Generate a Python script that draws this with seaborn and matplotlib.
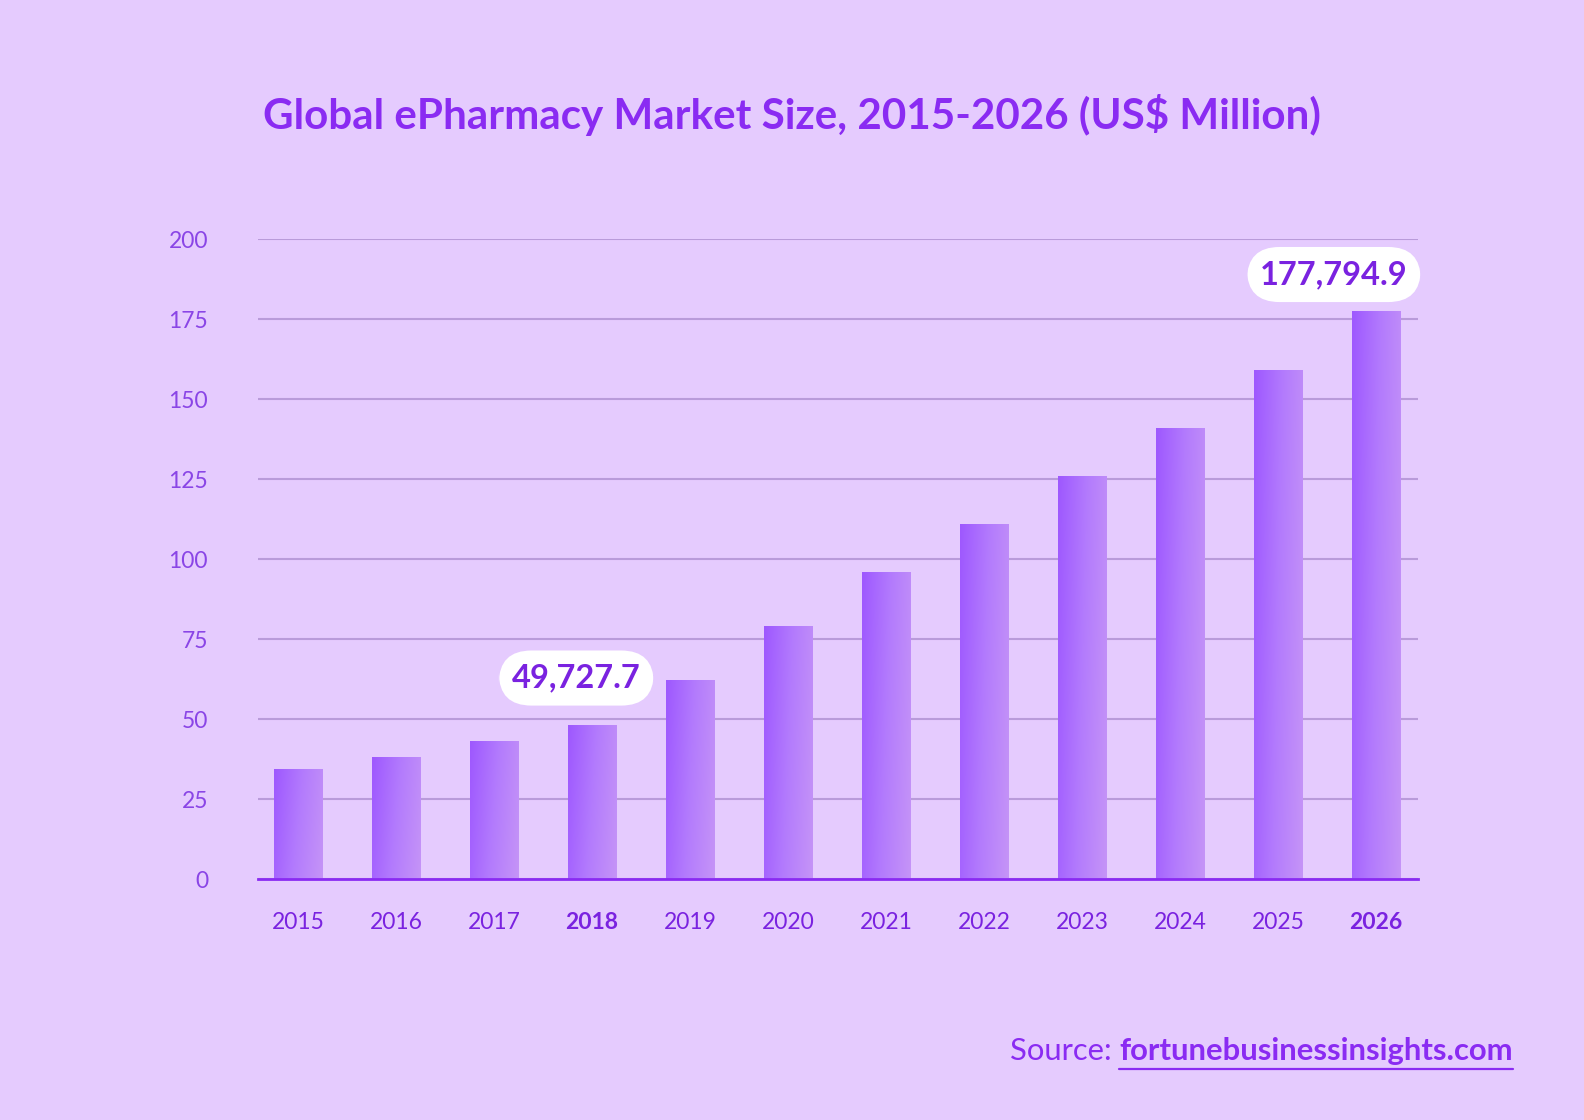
import numpy as np
import matplotlib
matplotlib.use("Agg")
import matplotlib.pyplot as plt
import seaborn as sns
from matplotlib.colors import LinearSegmentedColormap

years = ["2015", "2016", "2017", "2018", "2019", "2020", "2021", "2022", "2023", "2024", "2025", "2026"]
values = [34.4, 38.1, 43.1, 48.1, 62.2, 79.1, 95.9, 110.9, 125.9, 140.9, 159.1, 177.6]
yticks = [0, 25, 50, 75, 100, 125, 150, 175, 200]
callout_years = ["2018", "2026"]
callout_texts = ["49,727.7", "177,794.9"]
bold_years = ["2018", "2026"]
title = "Global ePharmacy Market Size, 2015-2026 (US$ Million)"

BG = "#E5CBFE"
PURPLE = "#8A2BF2"
DARK = "#7A22E0"
TICK = "#8A45E6"

sns.set_theme(style="white")
plt.rcParams["font.family"] = ["Lato", "DejaVu Sans"]

W, H = 1584, 1120
fig = plt.figure(figsize=(W / 100, H / 100), dpi=100)
fig.patch.set_facecolor(BG)

ax_l, ax_r, ax_t, ax_b = 258, 1418, 239, 879
ax = fig.add_axes([ax_l / W, 1 - ax_b / H, (ax_r - ax_l) / W, (ax_b - ax_t) / H])
ax.set_facecolor(BG)

sns.barplot(x=years, y=values, order=years, ax=ax, width=0.49, color="#A864FF",
            saturation=1, zorder=2)

cmap = LinearSegmentedColormap.from_list("g", ["#9E58FF", "#B37BFD", "#C594F7"])
n = 64
X, Y = np.meshgrid(np.linspace(0, 1, n), np.linspace(0, 1, n))
grad = 0.82 * X + 0.18 * Y
for p in list(ax.patches):
    x0, w, h = p.get_x(), p.get_width(), p.get_height()
    p.set_facecolor("none")
    p.set_edgecolor("none")
    im = ax.imshow(grad, extent=[x0, x0 + w, 0, h], origin="upper", aspect="auto",
                   cmap=cmap, vmin=0, vmax=1, zorder=2.5, interpolation="bicubic")
    im.set_clip_path(p)

ax.set_xlim((ax_l - 298) / 98, (ax_r - 298) / 98)
ax.set_ylim(0, 200)
ax.set_yticks(yticks)
ax.set_yticklabels([str(v) for v in yticks])
ax.yaxis.grid(True, color="#B99BDA", lw=1.5, zorder=1)
ax.xaxis.grid(False)
ax.set_axisbelow(True)
for s in ["left", "right", "top"]:
    ax.spines[s].set_visible(False)
ax.spines["bottom"].set_color(PURPLE)
ax.spines["bottom"].set_linewidth(2)
ax.spines["bottom"].set_zorder(4)
ax.tick_params(axis="both", length=0)
ax.tick_params(axis="y", pad=36, labelsize=16.5, labelcolor=TICK)
ax.tick_params(axis="x", pad=24, labelsize=16.5, labelcolor=DARK)
for lab in ax.get_yticklabels():
    lab.set_fontweight("normal")
for lab in ax.get_xticklabels():
    lab.set_fontweight("bold" if lab.get_text() in bold_years else "normal")
ax.set_xlabel("")
ax.set_ylabel("")

offsets = {"2018": -0.16, "2026": -0.43}
heights = {"2018": 62.8, "2026": 188.9}
for yr, txt in zip(callout_years, callout_texts):
    i = years.index(yr)
    ax.text(i + offsets[yr], heights[yr], txt, ha="center", va="center", fontsize=23.5,
            fontweight="bold", color=DARK, zorder=6, clip_on=False,
            bbox=dict(boxstyle="round,pad=0.40,rounding_size=1.0", fc="white", ec="none"))

fig.text(0.5, 1 - 115 / H, title, ha="center", va="center", fontsize=30.3,
         fontweight="bold", color=PURPLE)

renderer = fig.canvas.get_renderer()
url = fig.text(1513 / W, 1 - 1051 / H, "fortunebusinessinsights.com", ha="right", va="center",
               fontsize=22.3, fontweight="bold", color=PURPLE)
bb = url.get_window_extent(renderer)
fig.text(bb.x0 / W, 1 - 1051 / H, "Source: ", ha="right", va="center", fontsize=22.3,
         color=PURPLE)
uy = 1 - 1069 / H
fig.add_artist(plt.Line2D([bb.x0 / W, bb.x1 / W], [uy, uy], color=PURPLE, lw=1.6,
                          transform=fig.transFigure))

fig.savefig("out.png", dpi=100, facecolor=BG)
